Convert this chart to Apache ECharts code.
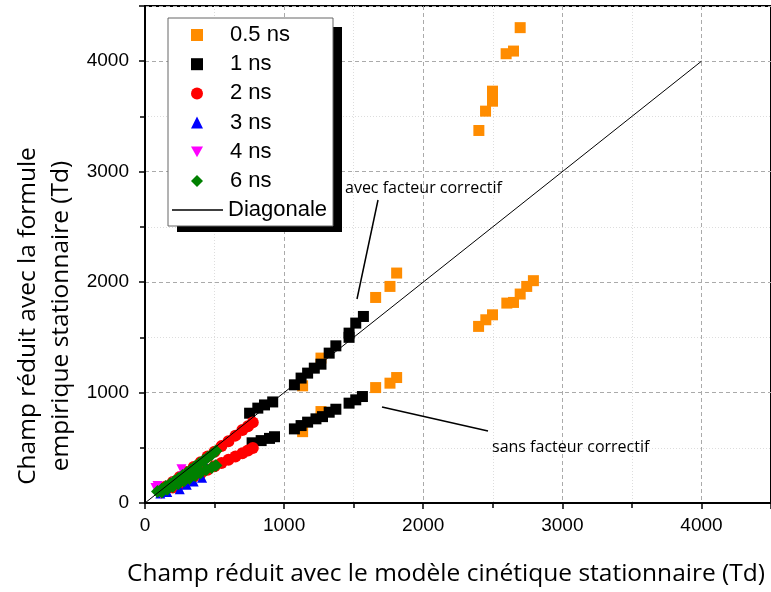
<!DOCTYPE html>
<html><head><meta charset="utf-8">
<script src="https://cdn.jsdelivr.net/npm/echarts@6/dist/echarts.min.js"></script>
<style>html,body{margin:0;padding:0;background:#fff}#c{width:771px;height:592px}</style>
</head><body><div id="c"></div>
<script>
var scatterNames = ['0.5 ns','1 ns','2 ns','3 ns','4 ns','6 ns'];
var lineName = 'Diagonale';
var xTicks = [0,1000,2000,3000,4000];
var yTicks = [0,1000,2000,3000,4000];
var d05 = [[2400,3373],[2448,3548],[2498,3638],[2498,3729],[2596,4068],[2649,4092],[2697,4304],
  [2398,1599],[2450,1659],[2498,1704],[2601,1810],[2649,1816],[2697,1892],[2744,1961],[2792,2013],
  [1658,1861],[1761,1961],[1809,2082],[1658,1045],[1761,1085],[1809,1136],
  [1133,1061],[1133,646],[1265,1312],[1265,828]];
var d1 = [[752,813],[811,859],[859,888],[918,915],[1074,1070],[1122,1131],[1169,1176],[1217,1221],[1265,1257],[1324,1357],[1372,1423],[1467,1500],[1467,1538],[1515,1629],[1570,1689],
  [770,545],[835,565],[895,585],[931,600],[1074,671],[1122,701],[1169,732],[1229,762],[1276,782],[1324,822],[1372,849],[1467,904],[1515,934],[1563,964]];
var d2 = [[150,150],[200,190],[250,235],[300,280],[350,325],[400,370],[450,420],[500,465],[550,515],[600,560],[650,610],[700,660],[740,695],[775,730],
  [200,140],[250,172],[300,205],[350,238],[400,268],[450,300],[500,333],[550,362],[600,392],[650,420],[700,450],[740,475],[775,498]];
var d3 = [[110,85],[160,100],[250,125],[300,165],[350,195],[410,228],[150,140],[250,230],[350,320],[420,380]];
var d4 = [[75,135],[90,155],[95,110],[115,80],[130,120],[170,150],[220,190],[262,305],[270,240]];
var d6 = [[90,105],[120,125],[150,150],[180,172],[210,198],[240,222],[270,250],[300,275],[330,302],[360,330],[390,357],[420,385],[450,412],[480,440],[510,470],
  [120,100],[160,125],[200,150],[240,175],[280,200],[320,225],[360,250],[400,275],[440,300],[480,322],[510,340]];
var diag = [[0,0],[4000,4000]];

var chart = echarts.init(document.getElementById('c'), null, {renderer:'canvas'});
var axisFont = {fontFamily:'Liberation Sans', fontSize:19, color:'#000'};
function axisCommon(ticks){
  return {
    type:'value', min:0, max:4500, interval:1000,
    axisLine:{show:true, onZero:false, lineStyle:{color:'#000', width:2}},
    axisTick:{show:true, inside:false, length:6, lineStyle:{color:'#000', width:1.5}},
    minorTick:{show:true, splitNumber:2, length:5, lineStyle:{color:'#000', width:1.5}},
    splitLine:{show:true, lineStyle:{color:'#aaaaaa', type:[4,3], width:1}},
    minorSplitLine:{show:true, lineStyle:{color:'#dddddd', type:[1,2], width:1}},
    axisLabel:Object.assign({margin:13, showMaxLabel:false, formatter:function(v){return ticks.indexOf(v)>=0?String(v):'';}}, axisFont)
  };
}
var xa = axisCommon(xTicks);
var ya = axisCommon(yTicks);
ya.axisLabel.margin = 16;

chart.setOption({
  animation:false,
  grid:{left:145, top:6, width:629, height:497, show:true, borderColor:'#000', borderWidth:2, backgroundColor:'transparent'},
  xAxis:xa, yAxis:ya,
  legend:[{
    orient:'vertical', left:191, top:24, z:20, padding:0,
    itemWidth:12, itemHeight:12, itemGap:7.2,
    textStyle:{fontFamily:'Liberation Sans', fontSize:22, color:'#000', lineHeight:22, padding:[0,0,0,22]},
    data:scatterNames
  },{
    orient:'vertical', left:172, top:199, z:20, padding:0,
    itemWidth:51, itemHeight:1.3,
    textStyle:{fontFamily:'Liberation Sans', fontSize:22, color:'#000', lineHeight:22},
    data:[{name:lineName, icon:'rect', itemStyle:{color:'#000'}}]
  }],
  graphic:[
    {type:'rect', z:15, shape:{x:177,y:27,width:165,height:205}, style:{fill:'#000'}},
    {type:'rect', z:16, shape:{x:168,y:18,width:165,height:208}, style:{fill:'#fff', stroke:'#666', lineWidth:1}},
    {type:'line', z:10, shape:{x1:357,y1:299,x2:378,y2:200}, style:{stroke:'#000', lineWidth:1.5}},
    {type:'line', z:10, shape:{x1:382,y1:407,x2:488,y2:431}, style:{stroke:'#000', lineWidth:1.5}},
    {type:'text', z:10, x:345, y:188, style:{text:'avec facteur correctif', fontFamily:'Open Sans', fontSize:16, fill:'#000', verticalAlign:'middle'}},
    {type:'text', z:10, x:492, y:447, style:{text:'sans facteur correctif', fontFamily:'Open Sans', fontSize:16, fill:'#000', verticalAlign:'middle'}},
    {type:'text', z:10, x:446, y:574, style:{text:'Champ réduit avec le modèle cinétique stationnaire (Td)', fontFamily:'Open Sans', fontSize:24.5, fill:'#000', align:'center', verticalAlign:'middle'}},
    {type:'text', z:10, x:28, y:316, rotation:Math.PI/2, style:{text:'Champ réduit avec la formule', fontFamily:'Open Sans', fontSize:24.5, fill:'#000', align:'center', verticalAlign:'middle'}},
    {type:'text', z:10, x:61, y:316, rotation:Math.PI/2, style:{text:'empirique stationnaire (Td)', fontFamily:'Open Sans', fontSize:24.5, fill:'#000', align:'center', verticalAlign:'middle'}}
  ],
  series:[
    {name:'0.5 ns', type:'scatter', symbol:'rect', symbolSize:11, itemStyle:{color:'#ff8c00', opacity:1}, data:d05, z:2},
    {name:'1 ns', type:'scatter', symbol:'rect', symbolSize:11, itemStyle:{color:'#000', opacity:1}, data:d1, z:3},
    {name:'2 ns', type:'scatter', symbol:'circle', symbolSize:12, itemStyle:{color:'#ff0000', opacity:1}, data:d2, z:4},
    {name:'3 ns', type:'scatter', symbol:'triangle', symbolSize:10, itemStyle:{color:'#0000ff', opacity:1}, data:d3, z:5},
    {name:'4 ns', type:'scatter', symbol:'path://M0,0 L10,0 L5,9 Z', symbolSize:10, itemStyle:{color:'#ff00ff', opacity:1}, data:d4, z:6},
    {name:'6 ns', type:'scatter', symbol:'diamond', symbolSize:13, itemStyle:{color:'#008000', opacity:1}, data:d6, z:7},
    {name:'Diagonale', type:'line', showSymbol:false, symbol:'none', lineStyle:{color:'#000', width:1}, data:diag, z:8}
  ]
});
</script></body></html>
